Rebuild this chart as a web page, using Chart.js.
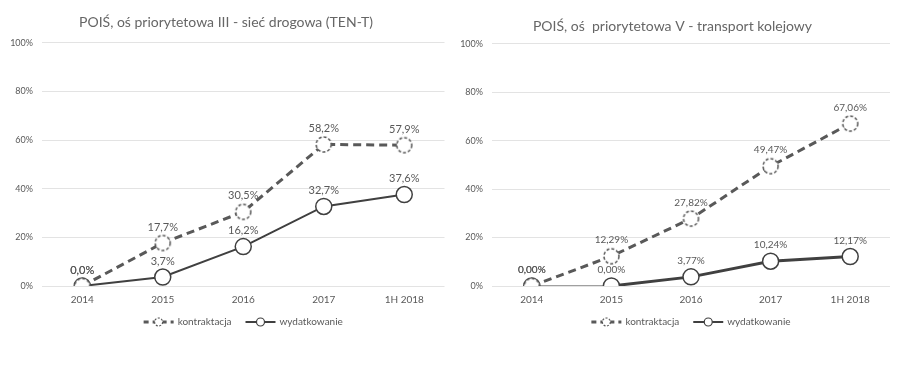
<!DOCTYPE html>
<html>
<head>
<meta charset="utf-8">
<script src="https://cdn.jsdelivr.net/npm/chart.js@4.4.1/dist/chart.umd.min.js"></script>
<style>
    html, body { margin: 0; padding: 0; background: #fff; }
    .wrap { position: absolute; top: 0; height: 373px; }
    #roadWrap { left: 0; width: 455px; }
    #railWrap { left: 455px; width: 450px; }
</style>
</head>
<body>
<div class="wrap" id="roadWrap"><canvas id="roadChart"></canvas></div>
<div class="wrap" id="railWrap"><canvas id="railChart"></canvas></div>
<script>
const years = ['2014', '2015', '2016', '2017', '1H 2018'];
const roadContract = [0, 17.7, 30.5, 58.2, 57.9];
const roadSpend = [0, 3.7, 16.2, 32.7, 37.6];
const railContract = [0, 12.29, 27.82, 49.47, 67.06];
const railSpend = [0, 0, 3.77, 10.24, 12.17];
const seriesNames = ['kontraktacja', 'wydatkowanie'];
const yTicks = [0, 20, 40, 60, 80, 100];

const DARK = '#404040';
const MID = '#595959';
const GRID = '#e3e3e3';

// dashed hollow marker, the library places it via pointStyle
const dashedCircle = (r) => {
    const c = document.createElement('canvas');
    const s = r * 2 + 4;
    c.width = s; c.height = s;
    const ctx = c.getContext('2d');
    ctx.beginPath();
    ctx.arc(s / 2, s / 2, r, 0, Math.PI * 2);
    ctx.fillStyle = '#fff';
    ctx.fill();
    ctx.setLineDash([3, 2]);
    ctx.lineWidth = 1.5;
    ctx.strokeStyle = MID;
    ctx.stroke();
    return c;
};

const fmt = (v, d) => v.toFixed(d).replace('.', ',') + '%';

const valueLabels = {
    id: 'valueLabels',
    afterDatasetsDraw(chart, args, opts) {
        const ctx = chart.ctx;
        ctx.save();
        ctx.font = opts.font;
        ctx.fillStyle = MID;
        ctx.textAlign = 'center';
        ctx.textBaseline = 'middle';
        chart.data.datasets.forEach((ds, i) => {
            chart.getDatasetMeta(i).data.forEach((pt, j) => {
                ctx.fillText(fmt(ds.data[j], opts.decimals), pt.x, pt.y - opts.offset);
            });
        });
        ctx.restore();
    }
};

const lineLegend = {
    id: 'lineLegend',
    afterDraw(chart, args, opts) {
        const ctx = chart.ctx;
        const y = chart.chartArea.bottom + opts.offset;
        ctx.save();
        ctx.font = opts.font;
        ctx.textBaseline = 'middle';
        const segW = 30, gap = 4, between = 14;
        const widths = chart.data.datasets.map(ds => segW + gap + ctx.measureText(ds.label).width);
        const total = widths.reduce((a, b) => a + b, 0) + between;
        let x = (chart.chartArea.left + chart.chartArea.right) / 2 - total / 2 + opts.shift;
        chart.data.datasets.forEach((ds, i) => {
            ctx.beginPath();
            ctx.strokeStyle = ds.borderColor;
            ctx.lineWidth = opts.lineWidths[i];
            ctx.setLineDash(i === 0 ? [5, 4] : []);
            ctx.moveTo(x, y);
            ctx.lineTo(x + segW, y);
            ctx.stroke();
            ctx.setLineDash(i === 0 ? [2, 1.5] : []);
            ctx.beginPath();
            ctx.arc(x + segW / 2, y, 4, 0, Math.PI * 2);
            ctx.fillStyle = '#fff';
            ctx.fill();
            ctx.lineWidth = 1.2;
            ctx.stroke();
            ctx.setLineDash([]);
            ctx.fillStyle = MID;
            ctx.fillText(ds.label, x + segW + gap, y);
            x += widths[i] + between;
        });
        ctx.restore();
    }
};

const makeChart = (id, cfg) => new Chart(document.getElementById(id), {
    type: 'line',
    data: {
        labels: years,
        datasets: [{
            label: seriesNames[0],
            data: cfg.contract,
            borderColor: MID,
            borderWidth: 3,
            borderDash: [8, 5],
            pointStyle: dashedCircle(7.5),
            pointRadius: 7.5,
            tension: 0
        }, {
            label: seriesNames[1],
            data: cfg.spend,
            borderColor: DARK,
            borderWidth: 2,
            segment: cfg.segment,
            pointBackgroundColor: '#fff',
            pointBorderColor: DARK,
            pointBorderWidth: 1.5,
            pointRadius: 8,
            tension: 0
        }]
    },
    options: {
        responsive: true, maintainAspectRatio: false,
        animation: false,
        layout: { padding: { left: 0, right: cfg.padRight, top: 0, bottom: 63 } },
        plugins: {
            legend: { display: false },
            tooltip: { enabled: false },
            title: {
                display: true,
                text: cfg.title,
                color: '#666',
                font: { family: 'Lato', size: 14, weight: 'normal' },
                padding: cfg.titlePad
            },
            valueLabels: { font: cfg.labelFont, decimals: cfg.decimals, offset: 16 },
            lineLegend: { font: cfg.legendFont, offset: 36, shift: 0, lineWidths: [3, 2] }
        },
        scales: {
            x: {
                offset: true,
                grid: { display: false, drawTicks: false },
                border: { display: false },
                ticks: { color: MID, font: cfg.xFont, padding: 8 },
                afterFit: s => { s.height = 24; }
            },
            y: {
                min: 0, max: 100,
                afterBuildTicks: s => { s.ticks = yTicks.map(v => ({ value: v })); },
                grid: { color: GRID, drawTicks: false },
                border: { display: false },
                ticks: { color: MID, font: { family: 'Lato', size: 9 }, padding: 9, callback: v => v + '%' },
                afterFit: s => { s.width = cfg.yWidth; }
            }
        }
    },
    plugins: [valueLabels, lineLegend]
});

makeChart('roadChart', {
    title: 'POIŚ, oś priorytetowa III - sieć drogowa (TEN-T)',
    contract: roadContract,
    spend: roadSpend,
    decimals: 1,
    padRight: 3,
    yWidth: 42,
    titlePad: { top: 14, bottom: 12 },
    labelFont: '11px Lato',
    legendFont: '10px Lato',
    xFont: { family: 'Lato', size: 10 }
});

makeChart('railChart', {
    title: 'POIŚ, oś  priorytetowa V - transport kolejowy',
    contract: railContract,
    spend: railSpend,
    decimals: 2,
    padRight: 15,
    yWidth: 37,
    titlePad: { top: 18, bottom: 9 },
    segment: { borderWidth: c => c.p0DataIndex === 0 ? 1 : 3 },
    labelFont: '10px Lato',
    legendFont: '10px Lato',
    xFont: { family: 'Lato', size: 10 }
});
</script>
</body>
</html>
